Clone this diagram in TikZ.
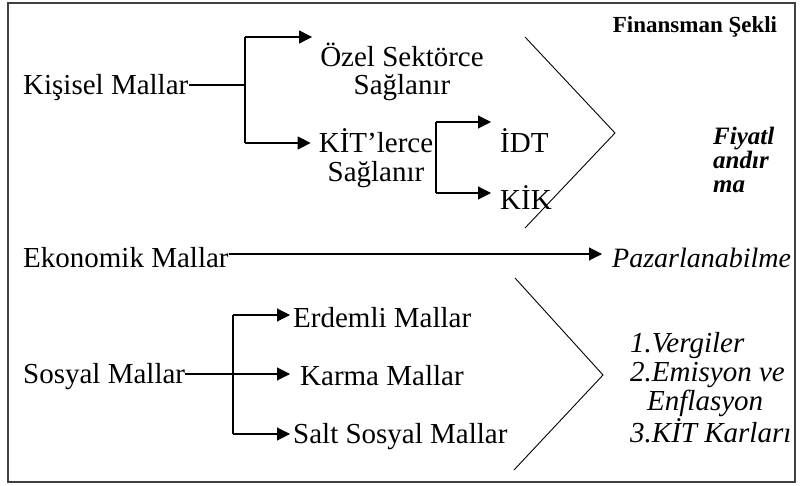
\documentclass[tikz,border=0pt]{standalone}
\usepackage{fontspec}
\setmainfont{Liberation Serif}
\usetikzlibrary{arrows.meta}
\usetikzlibrary{calc}

\begin{document}
\begin{tikzpicture}[x=1pt, y=-1pt,
    textnode/.style={inner sep=0pt, anchor=base west, font=\fontsize{29}{28}\selectfont},
    arrowline/.style={line width=1.1pt, -{Triangle[length=13pt,width=13pt]}},
    branch/.style={line width=1.1pt},
    chevron/.style={line width=0.9pt}]
    \useasboundingbox (0,0) rectangle (803,486);
    \draw [line width=1.6pt, black!75] (8,3) rectangle (795,482);

    % Kisisel mallar
    \node [textnode] (kisisel) at (23,95) {Kişisel Mallar};
    \node [textnode, anchor=base, align=center] (ozel) at (402,95) {Özel Sektörce\\Sağlanır};
    \node [textnode, anchor=base, align=center, font=\fontsize{29}{29}\selectfont] (kit) at (376,182) {KİT'lerce\\Sağlanır};
    \node [textnode] (idt) at (500,153) {İDT};
    \node [textnode] (kik) at (500,210) {KİK};

    \coordinate (kmid) at (245,85);
    \coordinate (ktop) at (245,37);
    \coordinate (kbot) at (245,143);
    \coordinate (itop) at (436,122);
    \coordinate (ibot) at (436,193);

    \draw [branch] (kisisel.east |- kmid) -- (kmid);
    \draw [branch] (ktop) -- (kbot);
    \draw [arrowline, shorten >=8pt] (ktop) -- (ozel.west |- ktop);
    \draw [arrowline, shorten >=8pt] (kbot) -- (kit.west |- kbot);
    \draw [branch] (itop) -- (ibot);
    \draw [arrowline, shorten >=9pt] (itop) -- (idt.west |- itop);
    \draw [arrowline, shorten >=9pt] (ibot) -- (kik.west |- ibot);

    \draw [chevron] (525,37) -- (615,133) -- (525,228);

    % finansman
    \node [inner sep=0pt, anchor=base, font=\fontsize{23}{26}\selectfont\bfseries] (finansman) at (695,33) {Finansman Şekli};
    \node [inner sep=0pt, anchor=base west, align=left, font=\fontsize{25}{24}\selectfont\bfseries\itshape] (fiyat) at (713,193) {Fiyatl\\andır\\ma};

    % Ekonomik mallar
    \node [textnode] (ekonomik) at (23,268) {Ekonomik Mallar};
    \node [textnode, font=\fontsize{28}{28}\selectfont\itshape] (pazar) at (612,268) {Pazarlanabilme};
    \draw [arrowline, shorten >=10pt] ([yshift=14pt]ekonomik.base east) -- ([yshift=14pt]pazar.base west);

    % Sosyal mallar
    \node [textnode] (sosyal) at (23,383) {Sosyal Mallar};
    \node [textnode] (erdemli) at (293,327) {Erdemli Mallar};
    \node [textnode] (karma) at (300,385) {Karma Mallar};
    \node [textnode] (salt) at (293,443) {Salt Sosyal Mallar};

    \coordinate (smid) at (233,374);
    \coordinate (stop) at (233,315);
    \coordinate (sbot) at (233,434);

    \draw [branch] (stop) -- (sbot);
    \draw [arrowline, shorten >=10pt] (sosyal.east |- smid) -- (karma.west |- smid);
    \draw [arrowline, shorten >=3pt] (stop) -- (erdemli.west |- stop);
    \draw [arrowline, shorten >=3pt] (sbot) -- (salt.west |- sbot);

    \draw [chevron] (515,278) -- (603,375) -- (514,470);

    \node [textnode, align=left, font=\fontsize{29}{29}\selectfont\itshape] (vergi) at (630,442) {1.Vergiler\\2.Emisyon ve\\\hspace*{17pt}Enflasyon\\3.KİT Karları};
\end{tikzpicture}
\end{document}
